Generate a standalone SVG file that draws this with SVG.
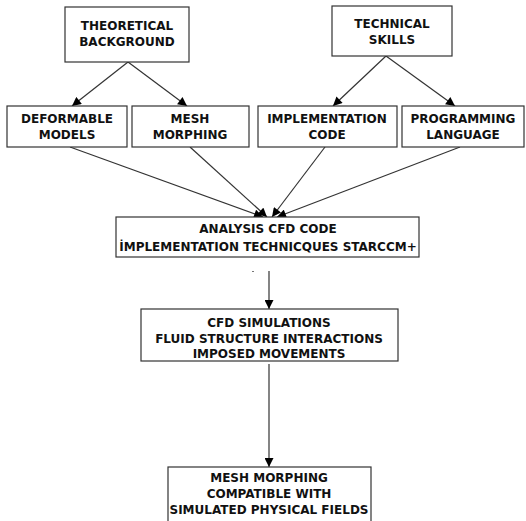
<svg xmlns="http://www.w3.org/2000/svg" width="526" height="521" viewBox="0 0 526 521">
<style>
.box{fill:#fff;stroke:#333;stroke-width:1.2}
.t{font-family:"DejaVu Sans",sans-serif;font-weight:bold;font-size:12px;fill:#111;text-anchor:middle}
.c{stroke:#333;stroke-width:1.2;fill:none;marker-end:url(#ah)}
</style>
<defs>
<marker id="ah" viewBox="0 0 10 10" refX="10" refY="5" markerWidth="10" markerHeight="9" markerUnits="userSpaceOnUse" orient="auto">
<path d="M0,0 L10,5 L0,10 z" fill="#000"/>
</marker>
</defs>
<rect width="526" height="521" fill="#fff"/>
<g id="connectors">
<line class="c" x1="128" y1="62" x2="72" y2="106"/>
<line class="c" x1="128" y1="62" x2="187" y2="106"/>
<line class="c" x1="386" y1="56" x2="333" y2="106"/>
<line class="c" x1="386" y1="56" x2="455" y2="106"/>
<line class="c" x1="70" y1="147" x2="263" y2="217"/>
<line class="c" x1="190" y1="147" x2="267" y2="217"/>
<line class="c" x1="325" y1="147" x2="272" y2="217"/>
<line class="c" x1="460" y1="147" x2="277" y2="217"/>
<line class="c" x1="269" y1="271" x2="269" y2="309"/>
<line class="c" x1="269" y1="364" x2="269" y2="467"/>
<rect x="252" y="271" width="2" height="1" fill="#777"/>
</g>
<g id="theoretical">
<rect class="box" x="65" y="7" width="124" height="55"/>
<text class="t" x="127" y="30">THEORETICAL</text>
<text class="t" x="127" y="46">BACKGROUND</text>
</g>
<g id="technical">
<rect class="box" x="332" y="6" width="120" height="50"/>
<text class="t" x="392" y="28">TECHNICAL</text>
<text class="t" x="392" y="44">SKILLS</text>
</g>
<g id="deformable">
<rect class="box" x="7" y="106" width="120" height="41"/>
<text class="t" x="67" y="123">DEFORMABLE</text>
<text class="t" x="67" y="139">MODELS</text>
</g>
<g id="meshmorphing">
<rect class="box" x="132" y="106" width="117" height="41"/>
<text class="t" x="190" y="123">MESH</text>
<text class="t" x="190" y="139">MORPHING</text>
</g>
<g id="implementation">
<rect class="box" x="258" y="106" width="139" height="41"/>
<text class="t" x="327" y="123">IMPLEMENTATION</text>
<text class="t" x="327" y="139">CODE</text>
</g>
<g id="programming">
<rect class="box" x="402" y="106" width="122" height="41"/>
<text class="t" x="463" y="123">PROGRAMMING</text>
<text class="t" x="463" y="139">LANGUAGE</text>
</g>
<g id="analysis">
<rect class="box" x="116" y="217" width="303" height="40"/>
<text class="t" x="268" y="233">ANALYSIS CFD CODE</text>
<text class="t" x="268" y="251">İMPLEMENTATION TECHNICQUES STARCCM+</text>
</g>
<g id="cfd">
<rect class="box" x="141" y="309" width="257" height="52"/>
<text class="t" x="269" y="327">CFD SIMULATIONS</text>
<text class="t" x="269" y="343">FLUID STRUCTURE INTERACTIONS</text>
<text class="t" x="269" y="358">IMPOSED MOVEMENTS</text>
</g>
<g id="final">
<rect class="box" x="168" y="467" width="203" height="60"/>
<text class="t" x="269" y="482">MESH MORPHING</text>
<text class="t" x="269" y="498">COMPATIBLE WITH</text>
<text class="t" x="269" y="514">SIMULATED PHYSICAL FIELDS</text>
</g>
</svg>
